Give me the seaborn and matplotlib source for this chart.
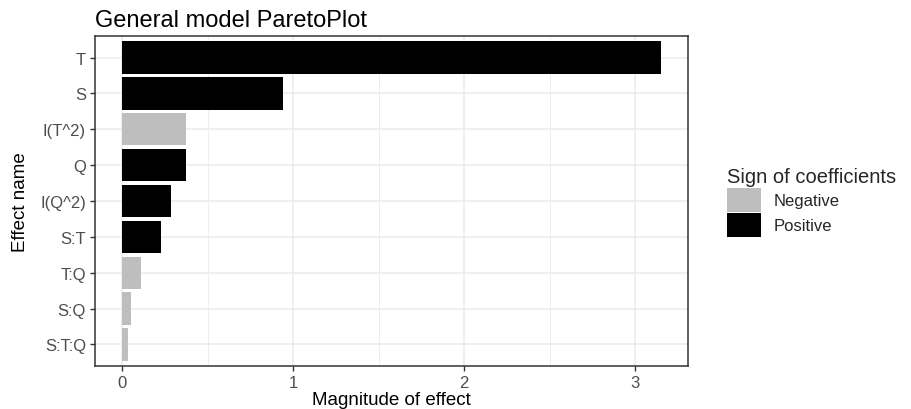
import matplotlib
matplotlib.use("Agg")
import matplotlib.pyplot as plt
import seaborn as sns
import pandas as pd
from matplotlib.ticker import MultipleLocator
from matplotlib.patches import Patch

effects = ["T", "S", "I(T^2)", "Q", "I(Q^2)", "S:T", "T:Q", "S:Q", "S:T:Q"]
magnitudes = [3.15, 0.94, 0.375, 0.372, 0.288, 0.227, 0.11, 0.05, 0.037]
signs = ["Positive", "Positive", "Negative", "Positive", "Positive", "Positive",
         "Negative", "Negative", "Negative"]
sign_levels = ["Negative", "Positive"]
sign_colors = {"Negative": "#bebebe", "Positive": "#000000"}

df = pd.DataFrame({"Effect": effects, "Magnitude": magnitudes, "Sign": signs})

sns.set_theme(style="white")
plt.rcParams["font.family"] = ["Liberation Sans", "DejaVu Sans"]

fig = plt.figure(figsize=(9.11, 4.10), dpi=100)
ax = fig.add_axes([95 / 911, 1 - 367 / 410, (688 - 95) / 911, (367 - 37) / 410])

sns.barplot(data=df, x="Magnitude", y="Effect", hue="Sign", order=effects,
            hue_order=sign_levels, palette=sign_colors, orient="h",
            dodge=False, width=0.9, saturation=1, ax=ax, legend=False,
            linewidth=0, zorder=3)

ax.set_xlim(-0.1575, 3.3075)
ax.set_ylim(len(effects) - 1 + 0.6, -0.6)
ax.xaxis.set_major_locator(MultipleLocator(1))
ax.xaxis.set_minor_locator(MultipleLocator(0.5))
ax.grid(True, which="major", color="#ebebeb", linewidth=1.1, zorder=0)
ax.grid(True, which="minor", axis="x", color="#ebebeb", linewidth=0.6, zorder=0)
ax.set_axisbelow(True)

for sp in ax.spines.values():
    sp.set_color("#333333")
    sp.set_linewidth(1.1)
    sp.set_visible(True)

ax.tick_params(axis="both", which="major", length=3.5, width=1.0, color="#333333",
               labelcolor="#4d4d4d", labelsize=12, pad=3, direction="out",
               bottom=True, left=True)
ax.tick_params(axis="both", which="minor", length=0)

ax.set_xlabel("Magnitude of effect", fontsize=13.5, color="black", labelpad=1)
ax.set_ylabel("Effect name", fontsize=13.5, color="black", labelpad=8)
ax.set_title("General model ParetoPlot", fontsize=17, loc="left", color="black", pad=7)

handles = [Patch(facecolor=sign_colors[s], edgecolor="none") for s in sign_levels]
leg = fig.legend(handles, sign_levels, title="Sign of coefficients",
                 loc="upper left", bbox_to_anchor=(719 / 911, 1 - 160 / 410),
                 frameon=False, fontsize=12, title_fontsize=14.5,
                 handlelength=2.0, handleheight=1.8, handletextpad=0.75,
                 labelspacing=0.1, borderpad=0)
leg._legend_box.align = "left"

fig.savefig("out.png", dpi=100)
